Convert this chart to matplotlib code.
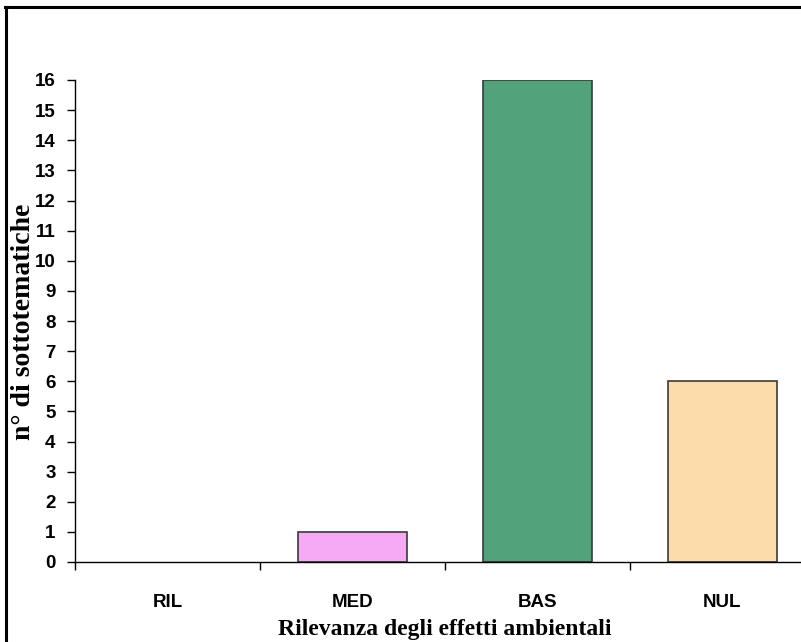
import matplotlib
matplotlib.use("Agg")
import matplotlib.pyplot as plt
from matplotlib.lines import Line2D
import numpy as np

categories = ["RIL", "MED", "BAS", "NUL"]
values = [0, 1, 16, 6]
bar_colors = ["#ffffff", "#f6aaf6", "#52a27b", "#fcdcaa"]
yticks = list(range(0, 17))
ylabel = "n° di sottotematiche"
xlabel = "Rilevanza degli effetti ambientali"

W, H = 801, 642
fig = plt.figure(figsize=(W / 100, H / 100), dpi=100)

ax = fig.add_axes([75 / W, 1 - 562 / H, 740 / W, (562 - 80) / H])
x = np.arange(len(categories))
lws = [1.2 if v > 0 else 0 for v in values]
ax.bar(x, values, width=0.59, color=bar_colors, edgecolor="#3a3a3a", linewidth=lws, zorder=2)

ax.set_xlim(-0.5, len(categories) - 0.5)
ax.set_ylim(0, 16)
ax.set_yticks(yticks)
ax.set_yticklabels([str(t) for t in yticks], fontfamily="Liberation Sans", fontweight="bold", fontsize=13.5)
ax.set_xticks(x)
ax.set_xticklabels(categories, fontfamily="Liberation Sans", fontweight="bold", fontsize=13.5)
ax.set_xticks(np.arange(len(categories) + 1) - 0.5, minor=True)
ax.tick_params(axis="x", which="major", length=0, pad=23)
ax.tick_params(axis="x", which="minor", length=6, width=1, direction="out", color="black")
ax.tick_params(axis="y", which="major", length=6, width=1, direction="out", pad=8)
for s in ["top", "right"]:
    ax.spines[s].set_visible(False)
for s in ["left", "bottom"]:
    ax.spines[s].set_linewidth(1.0)
    ax.spines[s].set_color("black")

fig.text(24 / W, 1 - 322 / H, ylabel, rotation=90, ha="center", va="center",
         fontfamily="Liberation Serif", fontweight="bold", fontsize=20)
fig.text(445 / W, 1 - 635 / H, xlabel, ha="center", va="baseline",
         fontfamily="Liberation Serif", fontweight="bold", fontsize=17)

# outer frame (partially cropped)
fig.add_artist(Line2D([5 / W, 1.0], [1 - 7 / H, 1 - 7 / H], transform=fig.transFigure, color="black", linewidth=2.2))
fig.add_artist(Line2D([6 / W, 6 / W], [0.0, 1 - 7 / H], transform=fig.transFigure, color="black", linewidth=2.2))

fig.savefig("out.png", dpi=100)
